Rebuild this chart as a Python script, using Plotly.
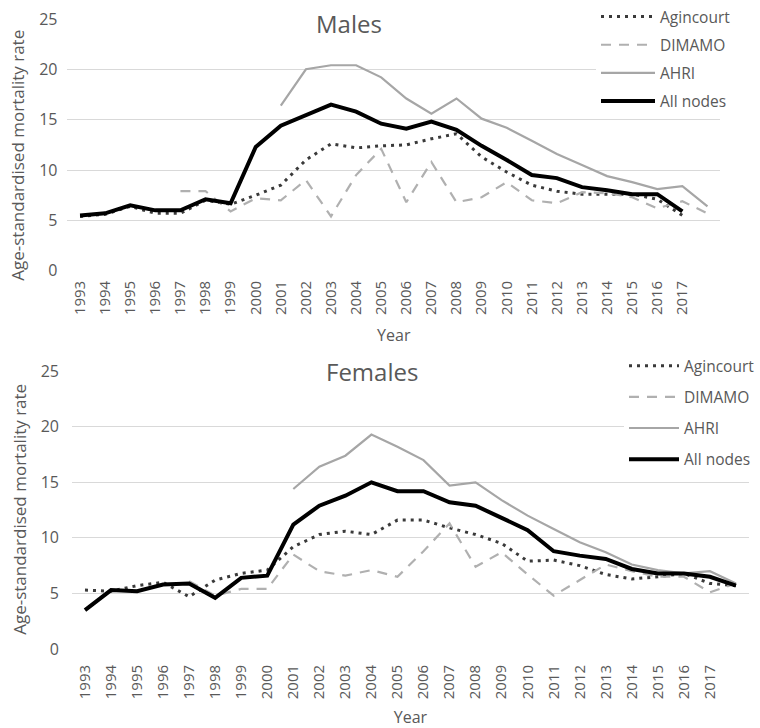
import plotly.graph_objects as go

# ---------------- data ----------------
years = [1993, 1994, 1995, 1996, 1997, 1998, 1999, 2000, 2001, 2002, 2003, 2004, 2005,
         2006, 2007, 2008, 2009, 2010, 2011, 2012, 2013, 2014, 2015, 2016, 2017, 2018]
tick_years = [1993, 1994, 1995, 1996, 1997, 1998, 1999, 2000, 2001, 2002, 2003, 2004, 2005,
              2006, 2007, 2008, 2009, 2010, 2011, 2012, 2013, 2014, 2015, 2016, 2017]
tick_labels = [str(y) for y in tick_years]
series_names = ["Agincourt", "DIMAMO", "AHRI", "All nodes"]
y_title = "Age-standardised mortality rate"

N = None
# Males
m_agincourt = [5.4, 5.6, 6.4, 5.7, 5.7, 7.0, 6.6, 7.5, 8.5, 11.0, 12.6, 12.2, 12.4,
               12.5, 13.1, 13.6, 11.3, 9.8, 8.5, 7.9, 7.6, 7.6, 7.6, 7.1, 5.5, N]
m_dimamo = [N, N, N, N, 7.9, 7.9, 5.9, 7.2, 7.0, 9.0, 5.4, 9.5, 12.1,
            6.8, 10.8, 6.8, 7.3, 8.8, 7.0, 6.7, 7.8, 7.7, 7.3, 6.2, 6.9, 5.7]
m_ahri = [N, N, N, N, N, N, N, N, 16.4, 20.0, 20.4, 20.4, 19.2,
          17.1, 15.6, 17.1, 15.1, 14.2, 12.9, 11.6, 10.5, 9.4, 8.8, 8.1, 8.4, 6.4]
m_all = [5.5, 5.7, 6.5, 6.0, 6.0, 7.1, 6.7, 12.3, 14.4, 15.5, 16.5, 15.8, 14.6,
         14.1, 14.8, 14.0, 12.4, 11.0, 9.5, 9.2, 8.3, 8.0, 7.6, 7.6, 5.9, N]
# Females
f_agincourt = [5.3, 5.2, 5.7, 6.0, 4.7, 6.2, 6.8, 7.1, 9.2, 10.3, 10.6, 10.3, 11.6,
               11.6, 10.9, 10.3, 9.5, 7.9, 8.0, 7.5, 6.7, 6.3, 6.5, 6.8, 5.9, 5.7]
f_dimamo = [N, N, N, N, 6.1, 4.8, 5.4, 5.4, 8.5, 7.0, 6.6, 7.1, 6.5,
            8.8, 11.3, 7.4, 8.7, 6.7, 4.8, 6.2, 7.6, 7.0, 6.5, 6.5, 5.1, 5.9]
f_ahri = [N, N, N, N, N, N, N, N, 14.4, 16.4, 17.4, 19.3, 18.2,
          17.0, 14.7, 15.0, 13.4, 12.0, 10.8, 9.6, 8.7, 7.6, 7.1, 6.8, 7.0, 5.9]
f_all = [3.5, 5.3, 5.2, 5.8, 5.9, 4.6, 6.4, 6.6, 11.2, 12.9, 13.8, 15.0, 14.2,
         14.2, 13.2, 12.9, 11.8, 10.7, 8.8, 8.4, 8.1, 7.2, 6.8, 6.8, 6.5, 5.7]

# ---------------- styles ----------------
TXT = "#595959"
GRID = "#d9d9d9"
FONT = "Open Sans"
styles = {
    "Agincourt": dict(color="#3a3a3a", width=3, dash="3px,5px"),
    "DIMAMO": dict(color="#b0b0b0", width=2.2, dash="10px,8px"),
    "AHRI": dict(color="#a6a6a6", width=2.2, dash="solid"),
    "All nodes": dict(color="#000000", width=4, dash="solid"),
}

fig = go.Figure()
panels = [
    ("x", "y", "legend", [m_agincourt, m_dimamo, m_ahri, m_all]),
    ("x2", "y2", "legend2", [f_agincourt, f_dimamo, f_ahri, f_all]),
]
for xa, ya, lg, vals in panels:
    for name, v in zip(series_names, vals):
        fig.add_trace(go.Scatter(
            x=years, y=v, name=name, mode="lines", xaxis=xa, yaxis=ya,
            legend=lg, legendgroup=lg + name, line=styles[name],
            connectgaps=False, hoverinfo="x+y+name"))

axis_common = dict(showgrid=False, zeroline=False, showline=False, ticks="",
                   automargin=False,
                   tickfont=dict(family=FONT, size=15, color=TXT))
yaxis_common = dict(range=[0, 25], dtick=5, tick0=0, showgrid=True, gridcolor=GRID,
                    gridwidth=1, zeroline=False, showline=False, ticks="",
                    automargin=False,
                    tickfont=dict(family=FONT, size=16, color=TXT))

fig.update_layout(
    width=760, height=728, autosize=False,
    margin=dict(l=0, r=0, t=0, b=0, pad=0),
    paper_bgcolor="white", plot_bgcolor="white",
    font=dict(family=FONT, color=TXT),
    showlegend=True,
    xaxis=dict(axis_common, domain=[0.0888, 0.9474], range=[1992.5, 2018.5],
               tickmode="array", tickvals=tick_years, ticktext=tick_labels,
               tickangle=-90, anchor="y", ticklabelstandoff=6,
               title=dict(text="Year", font=dict(family=FONT, size=16, color=TXT), standoff=15)),
    yaxis=dict(yaxis_common, domain=[1 - 267 / 728, 1 - 13 / 728], anchor="x", ticklabelstandoff=9),
    xaxis2=dict(axis_common, domain=[0.0947, 0.9855], range=[1992.5, 2018.5],
                tickmode="array", tickvals=tick_years, ticktext=tick_labels,
                tickangle=-90, anchor="y2", ticklabelstandoff=12,
                title=dict(text="Year", font=dict(family=FONT, size=16, color=TXT), standoff=13)),
    yaxis2=dict(yaxis_common, domain=[0.1095, 0.4941], anchor="x2", ticklabelstandoff=12),
    legend=dict(x=596 / 760, y=1 + 6 / 728, xanchor="left", yanchor="top",
                bgcolor="white", borderwidth=0, tracegroupgap=5, itemwidth=54,
                font=dict(family=FONT, size=15.5, color=TXT)),
    legend2=dict(x=624 / 760, y=1 - 346 / 728, xanchor="left", yanchor="top",
                 bgcolor="white", borderwidth=0, tracegroupgap=8, itemwidth=50,
                 font=dict(family=FONT, size=15.5, color=TXT)),
    annotations=[
        dict(text="Males", xref="paper", yref="paper", x=349 / 760, y=1 - 18 / 728,
             xanchor="center", yanchor="middle", showarrow=False, bgcolor="white",
             font=dict(family=FONT, size=24, color=TXT)),
        dict(text="Females", xref="paper", yref="paper", x=372 / 760, y=1 - 369 / 728,
             xanchor="center", yanchor="middle", showarrow=False, bgcolor="white",
             font=dict(family=FONT, size=24, color=TXT)),
        dict(text=y_title, xref="paper", yref="paper", x=18 / 760, y=1 - 151 / 728,
             xanchor="center", yanchor="middle", showarrow=False, textangle=-90,
             font=dict(family=FONT, size=17, color=TXT)),
        dict(text=y_title, xref="paper", yref="paper", x=20 / 760, y=1 - 508 / 728,
             xanchor="center", yanchor="middle", showarrow=False, textangle=-90,
             font=dict(family=FONT, size=17, color=TXT)),
    ],
)

fig.write_html("out.html", config={"displayModeBar": False},
               post_script="document.body.style.margin='0px';")
